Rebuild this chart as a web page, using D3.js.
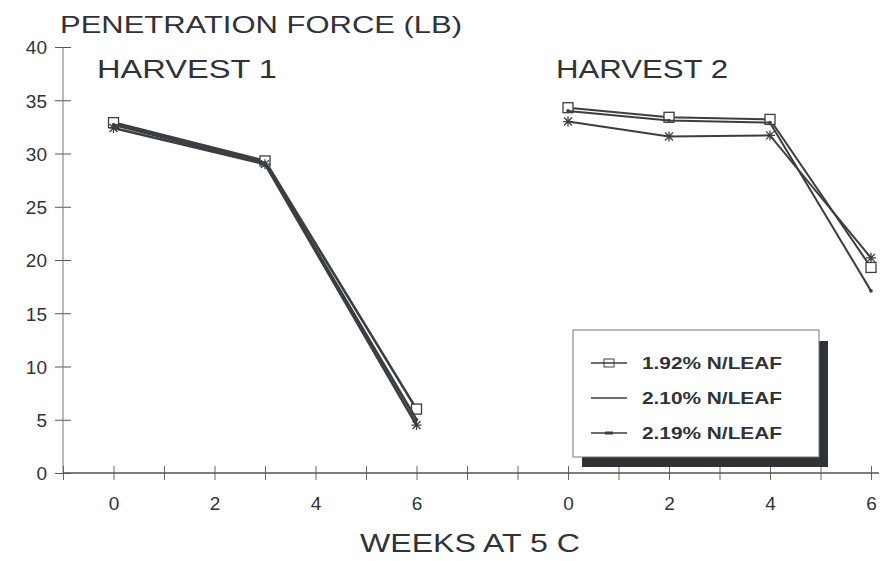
<!DOCTYPE html>
<html>
<head>
<meta charset="utf-8">
<script src="https://cdn.jsdelivr.net/npm/d3@7"></script>
<style>
  body { margin: 0; background: #fff; }
  text { font-family: "Liberation Sans", Arial, sans-serif; fill: #2f3338; }
</style>
</head>
<body>
<script>
// data
const series = ["1.92% N/LEAF", "2.10% N/LEAF", "2.19% N/LEAF"];
const weeks1 = [0, 3, 6];
const weeks2 = [0, 2, 4, 6];
const harvest1 = [
    [32.9, 29.3, 6.0],
    [32.7, 29.1, 5.0],
    [32.4, 29.0, 4.5]
];
const harvest2 = [
    [34.3, 33.4, 33.2, 19.3],
    [34.0, 33.1, 32.9, 17.1],
    [33.0, 31.6, 31.7, 20.2]
];
const yTicks = [0, 5, 10, 15, 20, 25, 30, 35, 40];
const h2Offset = 9;

const W = 883, H = 561;
const ink = "#3a3e43";

const svg = d3.select("body").append("svg")
    .attr("width", W)
    .attr("height", H);

//Scales
const xScale = d3.scaleLinear().domain([-1, 15]).range([63, 871]);
const yScale = d3.scaleLinear().domain([0, 40]).range([473, 47]);

//Axis y
const yAxis = d3.axisLeft(yScale).tickValues(yTicks).tickSize(8).tickPadding(10);
const gy = svg.append("g")
    .attr("transform", "translate(" + xScale(-1) + ",0)")
    .call(yAxis);
gy.select(".domain").remove();
gy.append("line")
    .attr("y1", yScale(40)).attr("y2", yScale(0))
    .attr("stroke", "#777").attr("stroke-width", 1);
gy.selectAll(".tick line").attr("x1", -8).attr("x2", 8).attr("stroke", "#555");
gy.selectAll(".tick text").style("font-size", "19px").attr("dy", "0.36em").attr("x", -16);

//Axis x
const xTicks = d3.range(-1, 16);
const xAxis = d3.axisBottom(xScale)
    .tickValues(xTicks)
    .tickSize(7)
    .tickFormat(p => {
        if (p >= 0 && p <= 6 && p % 2 == 0) return p;
        if (p >= h2Offset && (p - h2Offset) % 2 == 0) return p - h2Offset;
        return "";
    });
const gx = svg.append("g")
    .attr("transform", "translate(0," + yScale(0) + ")")
    .call(xAxis);
gx.select(".domain").remove();
gx.append("line")
    .attr("x1", xScale(-1)).attr("x2", 879)
    .attr("stroke", "#555").attr("stroke-width", 1.3);
gx.selectAll(".tick line").attr("y1", -7).attr("y2", 7).attr("stroke", "#666");
gx.selectAll(".tick text").style("font-size", "19px").attr("y", 24);

//Lines
const line = d3.line().x(d => xScale(d[0])).y(d => yScale(d[1]));
const panels = [
    { weeks: weeks1, values: harvest1, offset: 0 },
    { weeks: weeks2, values: harvest2, offset: h2Offset }
];
const marker = (g, i, x, y) => {
    if (i == 0) {
        g.append("rect").attr("x", x - 5).attr("y", y - 5).attr("width", 10).attr("height", 10)
            .attr("fill", "#fff").attr("stroke", ink).attr("stroke-width", 1.3);
    } else if (i == 2) {
        g.append("path")
            .attr("d", `M${x - 5},${y}H${x + 5}M${x},${y - 5}V${y + 5}M${x - 4},${y - 4}L${x + 4},${y + 4}M${x - 4},${y + 4}L${x + 4},${y - 4}`)
            .attr("stroke", ink).attr("stroke-width", 1.3);
    } else {
        g.append("circle").attr("cx", x).attr("cy", y).attr("r", 1.8).attr("fill", ink);
    }
};
const plot = svg.append("g");
panels.forEach(p => {
    p.values.forEach((vals, i) => {
        const pts = vals.map((v, j) => [p.weeks[j] + p.offset, v]);
        plot.append("path")
            .attr("d", line(pts))
            .attr("fill", "none")
            .attr("stroke", ink)
            .attr("stroke-width", p.offset ? 2 : 2.6);
        const mg = plot.append("g");
        pts.forEach(d => marker(mg, i, xScale(d[0]), yScale(d[1])));
    });
});

//Titles
svg.append("text").attr("x", 60).attr("y", 33)
    .attr("textLength", 402).attr("lengthAdjust", "spacingAndGlyphs")
    .style("font-size", "24px").text("PENETRATION FORCE (LB)");
svg.append("text").attr("x", 97).attr("y", 78)
    .attr("textLength", 180).attr("lengthAdjust", "spacingAndGlyphs")
    .style("font-size", "25px").text("HARVEST 1");
svg.append("text").attr("x", 556).attr("y", 78)
    .attr("textLength", 172).attr("lengthAdjust", "spacingAndGlyphs")
    .style("font-size", "25px").text("HARVEST 2");
svg.append("text").attr("x", 360).attr("y", 552)
    .attr("textLength", 220).attr("lengthAdjust", "spacingAndGlyphs")
    .style("font-size", "26px").text("WEEKS AT 5 C");

//Legend
const legend = svg.append("g");
legend.append("rect").attr("x", 582).attr("y", 341).attr("width", 246).attr("height", 126).attr("fill", "#2f3338");
legend.append("rect").attr("x", 573).attr("y", 330).attr("width", 246).attr("height", 127)
    .attr("fill", "#fff").attr("stroke", "#777").attr("stroke-width", 1);
series.forEach((s, i) => {
    const y = 363 + i * 35;
    legend.append("line").attr("x1", 591).attr("x2", 627).attr("y1", y).attr("y2", y)
        .attr("stroke", ink).attr("stroke-width", 1.5);
    if (i == 0) {
        legend.append("rect").attr("x", 604).attr("y", y - 4).attr("width", 10).attr("height", 8)
            .attr("fill", "none").attr("stroke", ink).attr("stroke-width", 1);
    } else if (i == 2) {
        legend.append("line").attr("x1", 605).attr("x2", 613).attr("y1", y).attr("y2", y)
            .attr("stroke", ink).attr("stroke-width", 3);
    }
    legend.append("text").attr("x", 642).attr("y", y).attr("dy", "0.36em")
        .attr("textLength", 140).attr("lengthAdjust", "spacingAndGlyphs")
        .style("font-size", "17px").style("font-weight", "bold").text(s);
});
</script>
</body>
</html>
